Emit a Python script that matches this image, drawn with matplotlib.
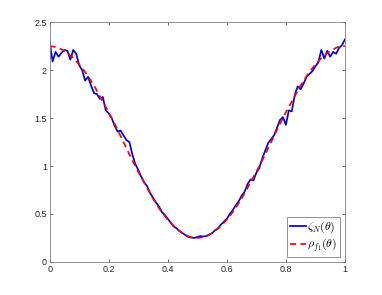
import numpy as np
import matplotlib
matplotlib.use("Agg")
import matplotlib.pyplot as plt

plt.rcParams.update({
    "font.family": ["Liberation Sans", "DejaVu Sans"],
    "mathtext.fontset": "cm",
    "xtick.direction": "in",
    "ytick.direction": "in",
    "xtick.top": True,
    "ytick.right": True,
})

# red dashed curve, read every 0.025
theta_rho = np.linspace(0, 1, 41)
rho = [2.25, 2.24, 2.20, 2.14, 2.06, 1.96, 1.84, 1.70, 1.56, 1.41,
       1.25, 1.09, 0.94, 0.80, 0.66, 0.54, 0.44, 0.36, 0.30, 0.26,
       0.25,
       0.26, 0.30, 0.36, 0.44, 0.54, 0.66, 0.80, 0.94, 1.09, 1.25,
       1.41, 1.56, 1.70, 1.84, 1.96, 2.06, 2.14, 2.20, 2.24, 2.25]

# blue noisy curve, read every 0.01
theta_zeta = np.linspace(0, 1, 101)
zeta = [2.29, 2.09, 2.19, 2.14, 2.18, 2.21, 2.20, 2.11, 2.21, 2.17,
        2.05, 2.00, 1.89, 1.93, 1.84, 1.76, 1.75, 1.70, 1.72, 1.58,
        1.55, 1.50, 1.42, 1.36, 1.37, 1.32, 1.27, 1.25, 1.12, 1.02,
        0.96, 0.89, 0.83, 0.79, 0.72, 0.67, 0.62, 0.58, 0.52, 0.49,
        0.45, 0.41, 0.37, 0.35, 0.32, 0.30, 0.28, 0.26, 0.255, 0.25,
        0.26, 0.27, 0.265, 0.27, 0.285, 0.30, 0.33, 0.35, 0.39, 0.42,
        0.45, 0.50, 0.54, 0.59, 0.63, 0.69, 0.73, 0.81, 0.86, 0.85,
        0.93, 0.98, 1.08, 1.16, 1.24, 1.28, 1.32, 1.40, 1.48, 1.51,
        1.43, 1.58, 1.57, 1.74, 1.83, 1.80, 1.86, 1.93, 1.96, 1.99,
        2.04, 2.08, 2.21, 2.12, 2.20, 2.14, 2.19, 2.17, 2.23, 2.26,
        2.32]

xticks = [0, 0.2, 0.4, 0.6, 0.8, 1]
xticklabels = ["0", "0.2", "0.4", "0.6", "0.8", "1"]
yticks = [0, 0.5, 1, 1.5, 2, 2.5]
yticklabels = ["0", "0.5", "1", "1.5", "2", "2.5"]

fig = plt.figure(figsize=(3.82, 2.95), dpi=100)
ax = fig.add_axes([0.13, 0.112, 0.773, 0.813])

ax.plot(theta_zeta, zeta, color="#0000d8", lw=1.25, label=r"$\zeta_N(\theta)$")
ax.plot(theta_rho, rho, color="red", lw=1.25, ls=(0, (3.5, 2.5)),
        label=r"$\rho_{f_1}(\theta)$")

ax.set_xlim(0, 1)
ax.set_ylim(0, 2.5)
ax.set_xticks(xticks)
ax.set_xticklabels(xticklabels)
ax.set_yticks(yticks)
ax.set_yticklabels(yticklabels)
ax.tick_params(labelsize=6.5, colors="#262626", length=2.5, width=0.5, pad=2)
for s in ax.spines.values():
    s.set_color("#808080")
    s.set_linewidth(0.6)

leg = ax.legend(loc="lower right", fontsize=8.5, fancybox=False,
                edgecolor="#808080", framealpha=1, handlelength=1.3,
                handletextpad=0.15, borderpad=0.25, labelspacing=0.2,
                borderaxespad=0.4)
leg.get_frame().set_linewidth(0.6)

fig.savefig("out.png", dpi=100)
